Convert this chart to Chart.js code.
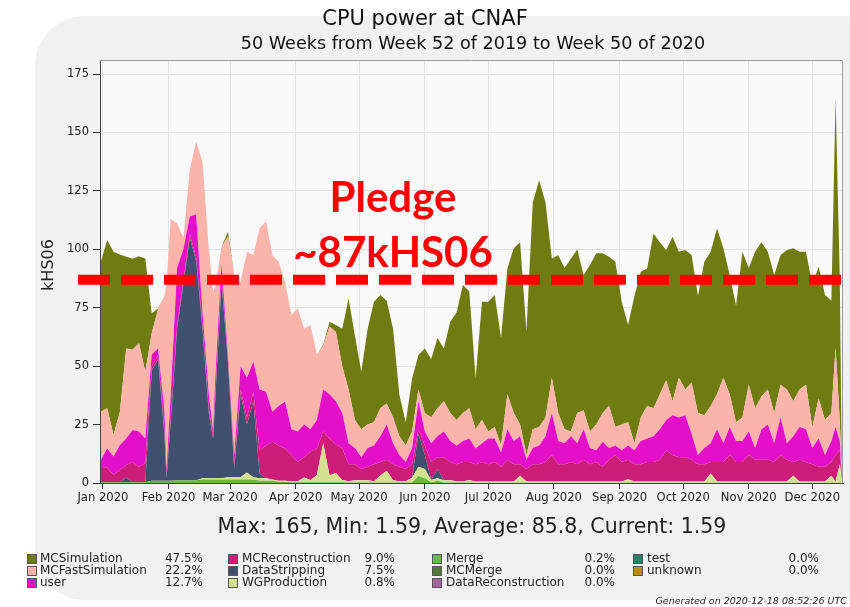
<!DOCTYPE html>
<html>
<head>
<meta charset="utf-8">
<title>CPU power at CNAF</title>
<script src="https://cdn.jsdelivr.net/npm/chart.js@4.4.0/dist/chart.umd.min.js"></script>
<style>
  html, body { margin: 0; padding: 0; background: #fff; }
  body { width: 850px; height: 607px; position: relative; overflow: hidden;
         font-family: "DejaVu Sans", sans-serif; color: #222; }
  #frame { position: absolute; left: 35px; top: 16px; width: 860px; height: 584px;
           background: #f1f1f1; border-radius: 50px; }
  #wrap { position: absolute; left: 0; top: 0; width: 850px; height: 607px; }
  .t { position: absolute; white-space: nowrap; transform: translate(-50%, -50%); }
  .pledge { position: absolute; white-space: nowrap; transform: translateX(-50%);
            font-family: Lato, "Open Sans", sans-serif; font-weight: bold; color: #ff0000;
            font-size: 42px; line-height: 1; }
  .lg { position: absolute; font-size: 12px; line-height: 12px; white-space: nowrap; color: #222; }
  .sq { position: absolute; width: 8px; height: 8px; border: 0.5px solid #555; }
</style>
</head>
<body>
<div id="frame"></div>
<div id="wrap"><canvas id="cpu"></canvas></div>

<div class="t" style="left:425px; top:18px; font-size:21px; color:#111;">CPU power at CNAF</div>
<div class="t" style="left:473px; top:43px; font-size:17.6px; color:#111;">50 Weeks from Week 52 of 2019 to Week 50 of 2020</div>
<div class="t" style="left:47px; top:265px; font-size:16px; transform: translate(-50%, -50%) rotate(-90deg);">kHS06</div>
<div class="t" style="left:472px; top:526px; font-size:20.5px;">Max: 165, Min: 1.59, Average: 85.8, Current: 1.59</div>
<div class="pledge" style="left:393px; top:175px;">Pledge</div>
<div class="pledge" style="left:393px; top:230px;">~87kHS06</div>
<div style="position:absolute; right:3px; top:595px; font-size:9.5px; font-style:italic; color:#222;">Generated on 2020-12-18 08:52:26 UTC</div>
<div id="legend"></div>

<script>
// day offsets from 1 Jan 2020
const days = [-1, 2, 5, 8, 11, 14, 17, 20, 23, 26, 29, 30, 32, 35, 38, 41, 44, 47, 50, 52, 53, 56,
  59, 62, 65, 68, 71, 74, 77, 80, 83, 86, 89, 92, 95, 98, 101, 104, 107, 110, 113, 116,
  119, 122, 125, 128, 131, 134, 137, 140, 143, 146, 149, 152, 155, 158, 161, 164, 167, 170, 173, 176,
  179, 182, 185, 188, 191, 194, 197, 200, 203, 206, 209, 212, 215, 218, 221, 224, 227, 230, 233, 236,
  239, 242, 245, 248, 251, 254, 257, 260, 263, 266, 269, 272, 275, 278, 281, 284, 287, 290, 293, 296,
  299, 302, 305, 308, 311, 314, 317, 320, 323, 326, 329, 332, 335, 338, 341, 344, 346, 348, 349];

const merge = [0.3, 0.3, 0.3, 0.3, 0.3, 0.3, 0.3, 0.3, 1, 1, 1, 1, 1, 1.2, 1.2, 1.2, 1.2, 1.5, 1.5, 1.5, 1.5, 1.5,
  1.5, 1.5, 1.5, 1.5, 1.5, 1, 1, 1, 0.5, 0.5, 0.3, 0.3, 0.3, 0.3, 0.3, 0.3, 0.3, 0.3, 0.3, 0.2,
  0.2, 0.2, 0.2, 0.2, 0.2, 0.2, 0.2, 0.2, 0.2, 0.2, 3, 2, 0.3, 1, 0.2, 0.2, 0.2, 0.2, 0.2, 0.1,
  0.1, 0.1, 0.1, 0.1, 0.1, 0.1, 0.1, 0.1, 0.1, 0.1, 0.1, 0.1, 0.1, 0.1, 0.1, 0.1, 0.1, 0.1, 0.1, 0.1,
  0.1, 0.1, 0.1, 0.1, 0.1, 0.1, 0.1, 0.1, 0.1, 0.1, 0.1, 0.1, 0.1, 0.1, 0.1, 0.1, 0.1, 0.1, 0.1, 0.1,
  0.1, 0.1, 0.1, 0.1, 0.1, 0.1, 0.1, 0.1, 0.1, 0.1, 0.1, 0.1, 0.1, 0.1, 0.1, 0.1, 0.1, 0.1, 0];

const wgProduction = [0, 0, 0, 0, 0, 0, 0, 0, 0, 0, 0, 0, 0, 0, 0, 0, 0, 0.5, 0.5, 0.5, 0.5, 0.5,
  1, 1, 1, 3, 1, 1, 1, 0.5, 0.5, 0.5, 0.5, 0.5, 2, 1, 3, 16.7, 3, 4, 1, 0.5,
  1, 1, 1, 0.5, 3, 5, 1, 0.5, 0.5, 2, 4, 4, 1, 1, 1, 1, 0.5, 0.5, 1, 0.5,
  0.5, 0.5, 0.5, 0.5, 0.5, 0.5, 3, 0.5, 0.5, 0.5, 0.5, 0.5, 0.5, 0.5, 0.5, 0.5, 0.5, 0.5, 0.5, 0.5,
  0.5, 0.5, 0.5, 1.5, 0.5, 0.5, 0.5, 0.5, 0.5, 0.5, 0.5, 0.5, 0.5, 0.5, 0.5, 0.5, 4, 0.5, 0.5, 0.5,
  0.5, 0.5, 0.5, 0.5, 0.5, 0.5, 0.5, 0.5, 0.5, 3, 0.5, 0.5, 0.5, 0.5, 0.5, 3, 0.5, 8, 0.19];

const dataStripping = [0, 0, 0, 0, 2, 0, 0, 0, 47, 52, 20, 1, 25, 64.8, 83.8, 103.8, 93.8, 64, 28, 17, 33, 84,
  49.5, 3.5, 35.5, 20.5, 32.5, 2, 0, 0, 0, 0, 0, 0, 0, 0, 0, 0, 0, 0, 0, 0,
  0, 0, 0, 0, 0, 0, 0, 0, 0, 0, 14, 6, 0, 4, 0, 0, 0, 0, 0, 0,
  0, 0, 0, 0, 0, 0, 0, 0, 0, 0, 0, 0, 0, 0, 0, 0, 0, 0, 0, 0,
  0, 0, 0, 0, 0, 0, 0, 0, 0, 0, 0, 0, 0, 0, 0, 0, 0, 0, 0, 0,
  0, 0, 0, 0, 0, 0, 0, 0, 0, 0, 0, 0, 0, 0, 0, 0, 0, 0, 0];

const mcReconstruction = [6.7, 6.2, 3.2, 5.3, 5.4, 8.7, 6.7, 8.1, 2, 1.5, 1.5, 1, 1.5, 1.5, 1.5, 1.5, 1.5, 1.5, 1.5, 1.5, 1.5, 1.5,
  1, 2, 2, 3, 4, 10, 14, 16.2, 15, 13.8, 11.2, 8.2, 8.7, 12.2, 11.5, 5, 15.7, 12.2, 13.7, 7.3,
  6.8, 4.8, 5.8, 7.3, 5.8, 4.8, 6.8, 6.3, 5.3, 5.8, 2, 4, 7.7, 5, 9.8, 7.8, 7.3, 8.3, 7.8, 7.4,
  8.4, 7.4, 8.4, 6.4, 9.4, 7.4, 4.9, 5.4, 7.4, 7.4, 8.4, 11.4, 7.4, 7.4, 8.4, 7.4, 9.4, 7.4, 8.4, 6.4,
  9.4, 11.4, 8.4, 8.4, 7.4, 7.4, 8.4, 8.4, 9.4, 13.4, 11.4, 10.4, 10.4, 9.4, 7.4, 7.4, 4.9, 8.4, 8.4, 11.4,
  8.4, 8.4, 11.4, 9.4, 9.4, 9.4, 8.4, 11.4, 9.4, 5.9, 9.4, 8.4, 7.4, 6.4, 6.4, 5.9, 11.4, 5.9, 0.4];

const user = [2.8, 8.3, 7.8, 10.7, 11.3, 13.7, 15, 10.6, 5, 3.1, 8.5, 2, 10.5, 24.5, 13.5, 7.5, 18.5, 5.5, 6.5, 2, 7.5, 6.5,
  2, 4, 10, 17, 13, 26, 23, 12.8, 17, 20, 11, 13, 14, 9.5, 12.2, 18, 19, 18.5, 15, 9,
  7, 5, 8, 8, 11, 15, 9, 5, 3, 7, 12, 6, 8, 9, 11, 9, 8, 9, 10, 6.8,
  8, 11, 10, 6, 13, 10, 12, 4, 7, 8, 11, 18, 10, 9, 11, 9, 13, 7, 5, 10.7,
  5, 4, 5, 6, 6, 10, 10, 11, 13, 13, 17, 17, 18, 11, 4, 7, 8, 14, 8, 12,
  9, 9, 10, 5, 13, 15, 8, 16, 7, 11, 14, 14, 7, 12, 5, 9, 12, 4, 0.5];

const mcFastSimulation = [20.7, 17.2, 9.2, 14.2, 38.6, 34.3, 37.8, 28.6, 9, 16.6, 49, 80, 75, 19, 5, 20, 31, 64.5, 62, 59.5, 40, 7,
  50.5, 77, 36, 54, 45.6, 69, 73, 67.1, 61.7, 51.2, 49, 52.7, 41, 44.6, 28, 18.5, 29, 29.6, 20, 23,
  12, 12, 10, 10, 12, 9, 11, 8, 7, 7, 5, 8, 11, 12, 13, 12, 11, 12, 13, 8.2,
  10, 3, 5, 3, 15, 12, 5, 2, 8, 8, 8, 15, 12, 6, 2, 13, 8, 7, 11, 12.3,
  18, 8, 11, 10, 3, 10, 14, 12, 15, 17, 6, 17, 11, 22, 18, 14, 16, 15, 28, 14,
  8, 10, 20, 17, 14, 15, 13, 14, 23, 15, 16, 19, 9, 17, 15, 12, 34, 8, 0.3];

const mcSimulation = [64.2, 72, 78.5, 67.3, 39.2, 39, 37.2, 48.4, 8.6, 0.5, 0, 0, 0, 0, 0, 0, 0, 0, 0, 0, 0, 0,
  2, 0, 0, 0, 0, 0, 0, 0, 0, 0, 0, 0, 0, 0, 0, 0.5, 2, 3, 16, 39,
  36, 24.6, 41, 51.6, 48.4, 44, 38, 17.7, 10, 22.8, 14.8, 27.6, 25, 30, 22.6, 39, 46, 54.7, 50, 21.8,
  50.6, 55.6, 56.4, 46, 53.9, 70.4, 78, 52.8, 97, 105.7, 92, 51, 67.6, 69, 74, 70, 58, 71.3, 73.3, 68.3,
  63.8, 70.7, 52.6, 41.6, 63, 62.4, 58.8, 74.8, 65, 55.7, 70.4, 54, 59.7, 54.6, 50, 65.7, 66, 71, 55.4, 51,
  50, 71, 50, 67, 66, 59, 59, 55.6, 59.7, 65.4, 59, 57, 60.7, 56.6, 53.4, 48, 107, 61, 0.2];

const pledge = 87;

const monthTicks = [0, 31, 60, 91, 121, 152, 182, 213, 244, 274, 305, 335];
const monthLabels = ["Jan 2020", "Feb 2020", "Mar 2020", "Apr 2020", "May 2020", "Jun 2020",
  "Jul 2020", "Aug 2020", "Sep 2020", "Oct 2020", "Nov 2020", "Dec 2020"];
const yTicks = [0, 25, 50, 75, 100, 125, 150, 175];

// legend, column by column
const legendNames = ["MCSimulation", "MCFastSimulation", "user", "MCReconstruction", "DataStripping",
  "WGProduction", "Merge", "MCMerge", "DataReconstruction", "test", "unknown"];
const legendPcts = ["47.5%", "22.2%", "12.7%", "9.0%", "7.5%", "0.8%", "0.2%", "0.0%", "0.0%", "0.0%", "0.0%"];
const legendColors = ["#6f7c12", "#fab4aa", "#e40fc8", "#cc1e78", "#40506e", "#d4e18e",
  "#66bb44", "#4f7a3a", "#a4659c", "#18876a", "#b88d12"];

// stacked from the bottom up
const stackOrder = [
  ["Merge", merge, "#66bb44"],
  ["WGProduction", wgProduction, "#d4e18e"],
  ["DataStripping", dataStripping, "#40506e"],
  ["MCReconstruction", mcReconstruction, "#cc1e78"],
  ["user", user, "#e40fc8"],
  ["MCFastSimulation", mcFastSimulation, "#fab4aa"],
  ["MCSimulation", mcSimulation, "#6f7c12"]
];

const datasets = stackOrder.map(([name, vals, color], i) => ({
  label: name,
  data: days.map((d, j) => ({ x: d, y: vals[j] })),
  backgroundColor: color,
  borderColor: color,
  borderWidth: 0,
  pointRadius: 0,
  tension: 0,
  fill: i === 0 ? "origin" : "-1"
}));

const plotDecor = {
  id: "plotDecor",
  beforeDraw(chart) {
    const { ctx, chartArea: a } = chart;
    ctx.save();
    ctx.fillStyle = "#f9f9f9";
    ctx.fillRect(a.left, a.top, a.right - a.left, a.bottom - a.top);
    ctx.restore();
  },
  afterDatasetsDraw(chart) {
    const { ctx, chartArea: a } = chart;
    ctx.save();
    ctx.strokeStyle = "#999";
    ctx.lineWidth = 1;
    ctx.beginPath();
    ctx.moveTo(a.left, a.top + 0.5);
    ctx.lineTo(a.right - 0.5, a.top + 0.5);
    ctx.lineTo(a.right - 0.5, a.bottom);
    ctx.stroke();
    const y = chart.scales.y.getPixelForValue(pledge);
    ctx.strokeStyle = "#ff0000";
    ctx.lineWidth = 10;
    ctx.setLineDash([32, 11]);
    ctx.beginPath();
    ctx.moveTo(78, y);
    ctx.lineTo(850, y);
    ctx.stroke();
    ctx.restore();
  }
};

new Chart(document.getElementById("cpu"), {
  type: "line",
  data: { datasets },
  options: {
    responsive: true,
    maintainAspectRatio: false,
    animation: false,
    events: [],
    layout: { padding: { left: 0, right: 7, top: 60, bottom: 100 } },
    plugins: { legend: { display: false }, title: { display: false }, tooltip: { enabled: false } },
    scales: {
      x: {
        type: "linear",
        min: -1.4,
        max: 349.5,
        afterBuildTicks: (s) => { s.ticks = monthTicks.map(v => ({ value: v })); },
        afterFit: (s) => { s.height = 24; },
        ticks: {
          autoSkip: false, maxRotation: 0, padding: 2,
          color: "#222", font: { family: "DejaVu Sans", size: 11.6 },
          callback: (v, i) => monthLabels[i]
        },
        grid: { color: "#e2e2e2", tickColor: "#333", tickLength: 6 },
        border: { color: "#444", width: 1 }
      },
      y: {
        stacked: true,
        min: 0,
        max: 181,
        afterBuildTicks: (s) => { s.ticks = yTicks.map(v => ({ value: v })); },
        afterFit: (s) => { s.width = 100; },
        ticks: { padding: 4, color: "#222", font: { family: "DejaVu Sans", size: 11.5 } },
        grid: { color: "#e2e2e2", tickColor: "#333", tickLength: 7 },
        border: { color: "#444", width: 1 }
      }
    }
  },
  plugins: [plotDecor]
});

// legend in four columns
const colSq = [27, 228, 432, 633];
const colLabel = [40, 242, 446, 647];
const colPctRight = [203, 395, 615, 819];
const rowY = [558, 570, 582];
const lg = document.getElementById("legend");
legendNames.forEach((name, i) => {
  const c = Math.floor(i / 3), r = i % 3;
  const y = rowY[r];
  lg.insertAdjacentHTML("beforeend",
    `<div class="sq" style="left:${colSq[c]}px; top:${y - 4}px; background:${legendColors[i]};"></div>` +
    `<div class="lg" style="left:${colLabel[c]}px; top:${y - 6}px;">${name}</div>` +
    `<div class="lg" style="right:${850 - colPctRight[c]}px; top:${y - 6}px;">${legendPcts[i]}</div>`);
});
</script>
</body>
</html>
